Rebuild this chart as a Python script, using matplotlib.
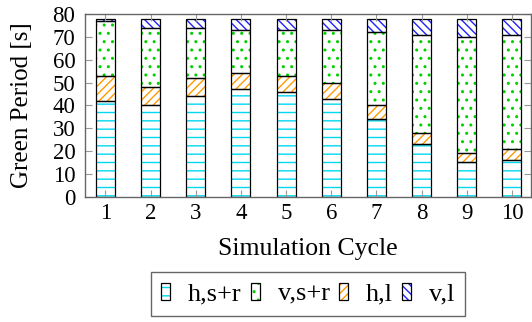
import matplotlib
matplotlib.use('Agg')
import matplotlib.pyplot as plt
from matplotlib.patches import Patch
from matplotlib.legend_handler import HandlerTuple
import numpy as np

cycles = [1, 2, 3, 4, 5, 6, 7, 8, 9, 10]
h_sr = [42, 40, 44, 47, 46, 43, 34, 23, 15, 16]
h_l = [11, 8, 8, 7, 7, 7, 6, 5, 4, 5]
v_sr = [24, 26, 22, 19, 20, 23, 32, 43, 51, 50]
v_l = [1, 4, 4, 5, 5, 5, 6, 7, 8, 7]
labels = ['h,s+r', 'v,s+r', 'h,l', 'v,l']

plt.rcParams['font.family'] = ['Liberation Serif', 'DejaVu Serif']
plt.rcParams['hatch.linewidth'] = 1.0

fig = plt.figure(figsize=(5.32, 3.22), dpi=100)
ax = fig.add_axes([0.16, 0.389, 0.838, 0.5675])

# stack order bottom -> top: h,s+r / h,l / v,s+r / v,l
series = [(h_sr, '#00d8f0', '--', labels[0]),
          (h_l, '#ff9a00', '////', labels[2]),
          (v_sr, '#00d000', '..', labels[1]),
          (v_l, '#2020ff', '\\\\\\\\', labels[3])]

x = np.array(cycles)
width = 0.42
bottom = np.zeros(len(cycles))
handles = {}
for vals, col, hatch, lab in series:
    vals = np.array(vals)
    # hatch takes the edge colour, so draw the hatch and the black outline apart
    ax.bar(x, vals, width, bottom=bottom, color='white', edgecolor=col,
           hatch=hatch, linewidth=0, zorder=1)
    ax.bar(x, vals, width, bottom=bottom, fill=False, edgecolor='black',
           linewidth=0.9, zorder=1.2)
    bottom += vals
    handles[lab] = (Patch(facecolor='white', edgecolor=col, hatch=hatch, linewidth=0),
                    Patch(fill=False, edgecolor='black', linewidth=0.9))

ax.set_xlim(0.55, 10.42)
ax.set_ylim(0, 80)
ax.set_xticks(cycles)
ax.set_yticks(range(0, 81, 10))
ax.tick_params(direction='in', length=5, width=0.8, color='#999999',
               labelsize=16.5, top=True, right=True)
ax.tick_params(axis='x', pad=4.5)
ax.tick_params(axis='y', pad=7)
for sp in ax.spines.values():
    sp.set_color('#666666')
    sp.set_linewidth(1.0)

ax.set_xlabel('Simulation Cycle', fontsize=18.5)
ax.set_ylabel('Green Period [s]', fontsize=18)
ax.xaxis.set_label_coords(0.5, -0.225)
ax.yaxis.set_label_coords(-0.117, 0.5)

leg = ax.legend([handles[l] for l in labels], labels,
                handler_map={tuple: HandlerTuple(ndivide=1, pad=0)},
                loc='upper center', bbox_to_anchor=(0.5, -0.412), ncol=4,
                fontsize=19, handlelength=0.32, handleheight=0.64,
                handletextpad=0.7, columnspacing=0.35, fancybox=False,
                framealpha=1, edgecolor='#666666', borderpad=0.4,
                borderaxespad=0)
leg.get_frame().set_linewidth(1.0)

fig.savefig('out.png', dpi=100)
